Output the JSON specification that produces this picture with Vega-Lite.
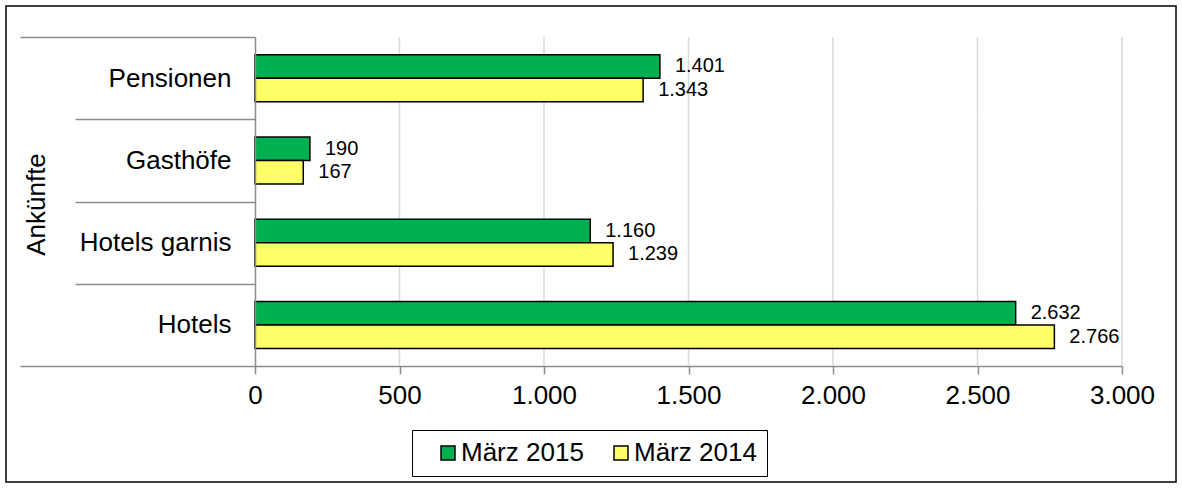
{
  "$schema": "https://vega.github.io/schema/vega-lite/v6.json",
  "width": 1170,
  "height": 476,
  "autosize": {"type": "none"},
  "padding": {"left": 6, "top": 6, "right": 6, "bottom": 6},
  "config": {
    "font": "Liberation Sans",
    "view": {"stroke": "#000000", "strokeWidth": 1.5},
    "locale": {"number": {"decimal": ",", "thousands": ".", "grouping": [3], "currency": ["", " €"]}}
  },
  "datasets": {
    "ankuenfte": [
      {"kategorie": "Pensionen", "zeitraum": "März 2015", "ankuenfte": 1401},
      {"kategorie": "Pensionen", "zeitraum": "März 2014", "ankuenfte": 1343},
      {"kategorie": "Gasthöfe", "zeitraum": "März 2015", "ankuenfte": 190},
      {"kategorie": "Gasthöfe", "zeitraum": "März 2014", "ankuenfte": 167},
      {"kategorie": "Hotels garnis", "zeitraum": "März 2015", "ankuenfte": 1160},
      {"kategorie": "Hotels garnis", "zeitraum": "März 2014", "ankuenfte": 1239},
      {"kategorie": "Hotels", "zeitraum": "März 2015", "ankuenfte": 2632},
      {"kategorie": "Hotels", "zeitraum": "März 2014", "ankuenfte": 2766}
    ],
    "gitter": [
      {"kategorie": "Pensionen", "ankuenfte": 500}, {"kategorie": "Pensionen", "ankuenfte": 1000}, {"kategorie": "Pensionen", "ankuenfte": 1500},
      {"kategorie": "Pensionen", "ankuenfte": 2000}, {"kategorie": "Pensionen", "ankuenfte": 2500}, {"kategorie": "Pensionen", "ankuenfte": 3000},
      {"kategorie": "Gasthöfe", "ankuenfte": 500}, {"kategorie": "Gasthöfe", "ankuenfte": 1000}, {"kategorie": "Gasthöfe", "ankuenfte": 1500},
      {"kategorie": "Gasthöfe", "ankuenfte": 2000}, {"kategorie": "Gasthöfe", "ankuenfte": 2500}, {"kategorie": "Gasthöfe", "ankuenfte": 3000},
      {"kategorie": "Hotels garnis", "ankuenfte": 500}, {"kategorie": "Hotels garnis", "ankuenfte": 1000}, {"kategorie": "Hotels garnis", "ankuenfte": 1500},
      {"kategorie": "Hotels garnis", "ankuenfte": 2000}, {"kategorie": "Hotels garnis", "ankuenfte": 2500}, {"kategorie": "Hotels garnis", "ankuenfte": 3000},
      {"kategorie": "Hotels", "ankuenfte": 500}, {"kategorie": "Hotels", "ankuenfte": 1000}, {"kategorie": "Hotels", "ankuenfte": 1500},
      {"kategorie": "Hotels", "ankuenfte": 2000}, {"kategorie": "Hotels", "ankuenfte": 2500}, {"kategorie": "Hotels", "ankuenfte": 3000}
    ]
  },
  "encoding": {
    "y": {
      "field": "kategorie",
      "type": "nominal",
      "sort": ["Pensionen", "Gasthöfe", "Hotels garnis", "Hotels"],
      "scale": {"range": [31, 360], "paddingInner": 0, "paddingOuter": 0},
      "axis": {
        "title": "Ankünfte",
        "titleFontSize": 26,
        "titleFontWeight": "normal",
        "titleColor": "#000000",
        "titleAngle": -90,
        "titleBaseline": "middle",
        "titleAlign": "center",
        "titleX": -219,
        "titleY": 198,
        "labelFontSize": 26,
        "labelColor": "#000000",
        "tickBand": "extent",
        "tickSize": {"condition": {"test": "datum.index < 0 || datum.value === 'Hotels'", "value": 235}, "value": 180},
        "tickColor": "#8c8c8c",
        "tickWidth": 1.5,
        "domainColor": "#8c8c8c",
        "domainWidth": 1.5,
        "labelPadding": {"condition": {"test": "datum.value === 'Hotels'", "value": -211}, "value": -156},
        "offset": -249,
        "grid": false
      }
    },
    "x": {
      "field": "ankuenfte",
      "type": "quantitative",
      "scale": {"domain": [0, 3000], "range": [249, 1116], "nice": false},
      "axis": {
        "title": null,
        "values": [0, 500, 1000, 1500, 2000, 2500, 3000],
        "format": ",d",
        "labelFontSize": 26,
        "labelColor": "#000000",
        "labelFlush": false,
        "labelOverlap": false,
        "labelPadding": 8,
        "tickSize": 8,
        "tickColor": "#8c8c8c",
        "tickWidth": 1.5,
        "domainColor": "#8c8c8c",
        "domainWidth": 1.5,
        "grid": false,
        "offset": -116
      }
    }
  },
  "layer": [
    {
      "data": {"name": "gitter"},
      "mark": {"type": "rect", "fill": "transparent", "stroke": "#d9d9d9", "strokeWidth": 1.5},
      "encoding": {
        "x2": {"field": "ankuenfte"}
      }
    },
    {
      "data": {"name": "ankuenfte"},
      "mark": {"type": "bar", "stroke": "#000000", "strokeWidth": 1.5},
      "encoding": {
        "yOffset": {
          "field": "zeitraum",
          "type": "nominal",
          "sort": ["März 2015", "März 2014"],
          "scale": {"paddingInner": 0, "paddingOuter": 0.75}
        },
        "color": {
          "field": "zeitraum",
          "type": "nominal",
          "scale": {"domain": ["März 2015", "März 2014"], "range": ["#00B050", "#FFFF66"]},
          "legend": {
            "title": null,
            "orient": "none",
            "legendX": 406,
            "legendY": 424,
            "direction": "horizontal",
            "strokeColor": "#000000",
            "fillColor": "#ffffff",
            "padding": 10,
            "symbolType": "square",
            "symbolSize": 196,
            "symbolStrokeColor": "#000000",
            "symbolStrokeWidth": 1.5,
            "symbolOpacity": 1,
            "symbolOffset": 13,
            "labelFontSize": 26,
            "labelColor": "#000000",
            "labelOffset": 0,
            "columnPadding": 11
          }
        }
      }
    },
    {
      "data": {"name": "ankuenfte"},
      "mark": {"type": "text", "align": "left", "baseline": "middle", "dx": 15, "fontSize": 20, "color": "#000000"},
      "encoding": {
        "yOffset": {
          "field": "zeitraum",
          "type": "nominal",
          "sort": ["März 2015", "März 2014"],
          "scale": {"paddingInner": 0, "paddingOuter": 0.75}
        },
        "text": {"field": "ankuenfte", "type": "quantitative", "format": ",d"}
      }
    }
  ]
}
